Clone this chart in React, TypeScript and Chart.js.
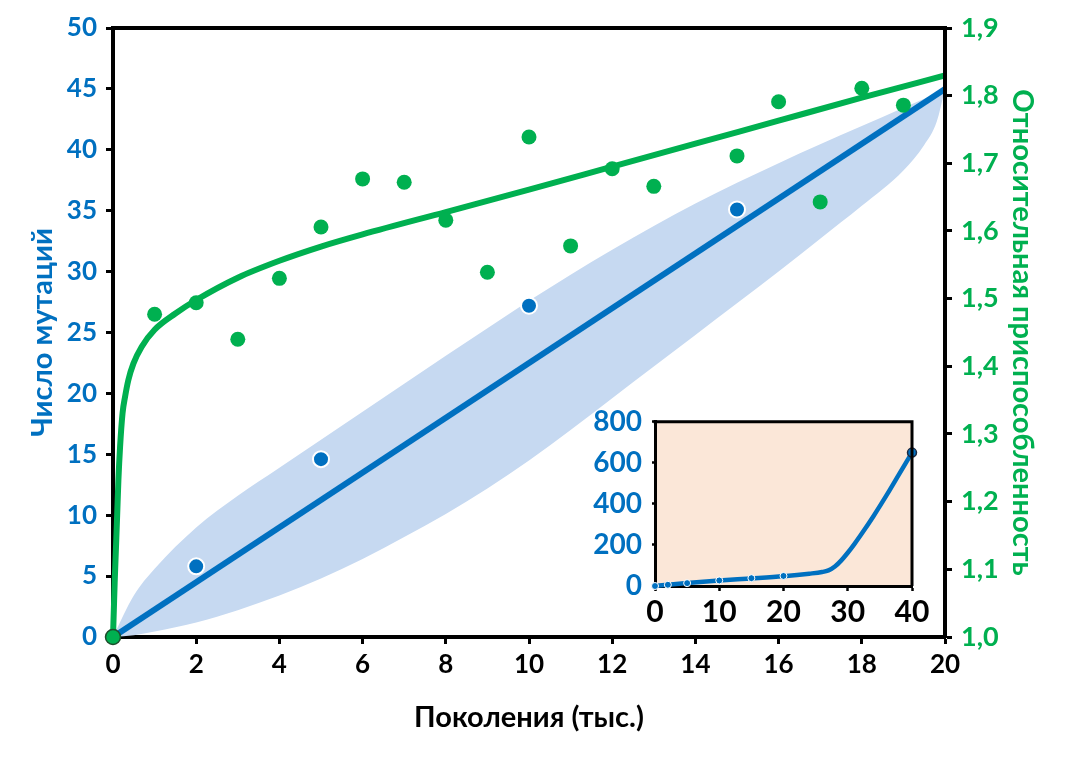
import React, { useEffect, useRef } from 'react';
import { Chart, registerables } from 'chart.js';

Chart.register(...registerables);

// fitness measurements (thousand generations -> relative fitness)
const fitnessGenerations = [0, 1, 2, 3, 4, 5, 6, 7, 8, 9, 10, 11, 12, 13, 15, 16, 17, 18, 19];
const fitnessValues = [1.0, 1.477, 1.494, 1.44, 1.53, 1.606, 1.677, 1.672, 1.616, 1.539, 1.739, 1.578, 1.692, 1.666, 1.711, 1.791, 1.643, 1.811, 1.786];

// fitted fitness curve
const fitnessCurveX = [0, 0.02, 0.04, 0.07, 0.1, 0.13, 0.17, 0.23, 0.29, 0.37, 0.49, 0.69, 1.0, 1.5, 2, 3, 4, 5, 6, 8, 10, 12, 14, 16, 18, 20];
const fitnessCurveY = [1.0, 1.04, 1.08, 1.13, 1.18, 1.232, 1.281, 1.331, 1.355, 1.38, 1.404, 1.429, 1.454, 1.478, 1.498, 1.531, 1.556, 1.577, 1.595, 1.628, 1.661, 1.695, 1.729, 1.763, 1.797, 1.83];

// mutation counts
const mutationGenerations = [0, 2, 5, 10, 15];
const mutationCounts = [0, 5.8, 14.6, 27.2, 35.1];

const trendX = [0, 20];
const trendY = [0, 45];

// confidence band around the trend
const bandX = [0, 0.5, 1, 2, 3, 4, 5, 6, 7, 8, 9, 10, 11, 12, 13, 14, 15, 16, 17, 18, 19, 19.5, 19.8, 20];
const bandUpper = [0, 3.4, 5.6, 9.0, 11.6, 13.9, 16.2, 18.5, 20.8, 23.1, 25.35, 27.6, 29.75, 31.8, 33.75, 35.6, 37.3, 38.9, 40.45, 41.95, 43.45, 44.2, 44.65, 45];
const bandLower = [0, 0.15, 0.45, 1.2, 2.2, 3.4, 4.8, 6.4, 8.2, 10.1, 12.2, 14.5, 17.0, 19.6, 22.2, 24.8, 27.4, 30.0, 32.7, 35.4, 38.3, 40.4, 42.3, 45];

// inset: mutations over 40 thousand generations
const insetCurveX = [0, 2, 5, 10, 15, 20, 24, 26, 27, 28, 29, 30, 31, 32, 34, 36, 38, 40];
const insetCurveY = [0, 6, 14.6, 27, 37, 48, 60, 68, 76, 95, 125, 162, 203, 247, 340, 440, 545, 650];
const insetMarkerX = [0, 2, 5, 10, 15, 20, 40];
const insetMarkerY = [0, 6, 14, 27, 38, 49, 650];

const BLUE = '#0070c0';
const GREEN = '#00b050';
const BAND = '#c6d9f1';
const PEACH = '#fbe7d8';
const FONT = 'Lato, "Noto Sans", sans-serif';

const font = (size: number) => ({ family: FONT, size, weight: 'bold' as const });
const pts = (xs: number[], ys: number[]) => xs.map((x, i) => ({ x, y: ys[i] }));

// closes the box: top and right edges of the plot area
const framePlugin = (width: number) => ({
  id: 'frame',
  afterDraw(chart: any) {
    const { ctx, chartArea: a } = chart;
    ctx.save();
    ctx.strokeStyle = '#000';
    ctx.lineWidth = width;
    ctx.beginPath();
    ctx.moveTo(a.left - width / 2, a.top);
    ctx.lineTo(a.right, a.top);
    ctx.lineTo(a.right, a.bottom);
    ctx.stroke();
    ctx.restore();
  },
});

const insetBackground = {
  id: 'insetBackground',
  beforeDraw(chart: any) {
    const { ctx, chartArea: a } = chart;
    ctx.save();
    ctx.fillStyle = PEACH;
    ctx.fillRect(a.left, a.top, a.right - a.left, a.bottom - a.top);
    ctx.restore();
  },
};

const App: React.FC = () => {
  const mainRef = useRef<HTMLCanvasElement>(null);
  const insetRef = useRef<HTMLCanvasElement>(null);

  useEffect(() => {
    document.body.style.margin = '0';
    if (!mainRef.current || !insetRef.current) return;

    const axisGrid = { drawOnChartArea: false, tickLength: 7, tickWidth: 3, color: '#000' };
    const axisBorder = { color: '#000', width: 4 };

    const main = new Chart(mainRef.current, {
      type: 'scatter',
      data: {
        datasets: [
          {
            // fitness points (origin point has a dark outline)
            data: pts(fitnessGenerations, fitnessValues),
            yAxisID: 'y1',
            pointRadius: 7.5,
            pointBackgroundColor: GREEN,
            pointBorderColor: fitnessGenerations.map((g) => (g === 0 ? '#1d4d2c' : GREEN)),
            pointBorderWidth: fitnessGenerations.map((g) => (g === 0 ? 1.5 : 0)),
            showLine: false,
            clip: false,
            order: 0,
          },
          {
            data: pts(mutationGenerations.slice(1), mutationCounts.slice(1)),
            yAxisID: 'y',
            pointRadius: 8,
            pointBackgroundColor: BLUE,
            pointBorderColor: '#fff',
            pointBorderWidth: 2,
            showLine: false,
            clip: false,
            order: 1,
          },
          {
            data: pts(fitnessCurveX, fitnessCurveY),
            yAxisID: 'y1',
            showLine: true,
            borderColor: GREEN,
            borderWidth: 6,
            pointRadius: 0,
            cubicInterpolationMode: 'monotone',
            clip: false,
            order: 2,
          },
          {
            data: pts(trendX, trendY),
            yAxisID: 'y',
            showLine: true,
            borderColor: BLUE,
            borderWidth: 6,
            pointRadius: 0,
            clip: false,
            order: 3,
          },
          {
            data: pts(bandX, bandUpper),
            yAxisID: 'y',
            showLine: true,
            borderWidth: 0,
            borderColor: 'rgba(0,0,0,0)',
            backgroundColor: BAND,
            pointRadius: 0,
            cubicInterpolationMode: 'monotone',
            fill: '+1',
            order: 4,
          },
          {
            data: pts(bandX, bandLower),
            yAxisID: 'y',
            showLine: true,
            borderWidth: 0,
            borderColor: 'rgba(0,0,0,0)',
            pointRadius: 0,
            cubicInterpolationMode: 'monotone',
            fill: false,
            order: 5,
          },
        ],
      },
      options: {
        animation: false,
        responsive: false,
        layout: { padding: { top: 28, right: 0, bottom: 0, left: 0 } },
        plugins: { legend: { display: false }, tooltip: { enabled: false } },
        scales: {
          x: {
            type: 'linear',
            min: 0,
            max: 20,
            ticks: { stepSize: 2, color: '#000', font: font(26), padding: 5 },
            grid: axisGrid,
            border: axisBorder,
            title: {
              display: true,
              text: 'Поколения (тыс.)',
              color: '#000',
              font: font(29),
              padding: { top: 0, bottom: 24 },
            },
            afterFit: (s: any) => { s.height = 122; },
          },
          y: {
            position: 'left',
            min: 0,
            max: 50,
            ticks: { stepSize: 5, color: BLUE, font: font(26), padding: 9 },
            grid: axisGrid,
            border: axisBorder,
            title: {
              display: true,
              text: 'Число мутаций',
              color: BLUE,
              font: font(29),
              padding: { top: 25, bottom: 0 },
            },
            afterFit: (s: any) => { s.width = 113; },
          },
          y1: {
            position: 'right',
            min: 1.0,
            max: 1.9,
            ticks: {
              stepSize: 0.1,
              color: GREEN,
              font: font(27),
              padding: 9,
              callback: (v: any) => Number(v).toFixed(1).replace('.', ','),
            },
            grid: axisGrid,
            border: axisBorder,
            title: {
              display: true,
              text: 'Относительная приспособленность',
              color: GREEN,
              font: font(29),
              padding: { top: 41, bottom: 0 },
            },
            afterFit: (s: any) => { s.width = 136; },
          },
        },
      },
      plugins: [framePlugin(4)],
    } as any);

    const inset = new Chart(insetRef.current, {
      type: 'scatter',
      data: {
        datasets: [
          {
            data: pts(insetMarkerX, insetMarkerY),
            pointRadius: insetMarkerX.map((x) => (x === 40 ? 4.5 : 3.5)),
            pointBackgroundColor: BLUE,
            pointBorderColor: insetMarkerX.map((x) => (x === 40 ? '#1b2a41' : '#fff')),
            pointBorderWidth: insetMarkerX.map((x) => (x === 40 ? 1.5 : 1)),
            showLine: false,
            clip: false,
            order: 0,
          },
          {
            data: pts(insetCurveX, insetCurveY),
            showLine: true,
            borderColor: BLUE,
            borderWidth: 4.5,
            pointRadius: 0,
            cubicInterpolationMode: 'monotone',
            clip: false,
            order: 1,
          },
        ],
      },
      options: {
        animation: false,
        responsive: false,
        layout: { padding: { top: 26, right: 38, bottom: 0, left: 0 } },
        plugins: { legend: { display: false }, tooltip: { enabled: false } },
        scales: {
          x: {
            type: 'linear',
            min: 0,
            max: 40,
            ticks: { stepSize: 10, color: '#000', font: font(30), padding: 3 },
            grid: { drawOnChartArea: false, tickLength: 5, tickWidth: 2.5, color: '#000' },
            border: { color: '#000', width: 3 },
            afterFit: (s: any) => { s.height = 54; },
          },
          y: {
            min: 0,
            max: 800,
            ticks: { stepSize: 200, color: BLUE, font: font(28), padding: 10 },
            grid: { drawOnChartArea: false, tickLength: 3, tickWidth: 2.5, color: '#000' },
            border: { color: '#000', width: 3 },
            afterFit: (s: any) => { s.width = 95; },
          },
        },
      },
      plugins: [insetBackground, framePlugin(3)],
    } as any);

    return () => {
      main.destroy();
      inset.destroy();
    };
  }, []);

  return (
    <div style={{ position: 'relative', width: 1081, height: 759, background: '#fff' }}>
      <canvas ref={mainRef} width={1081} height={759} style={{ position: 'absolute', left: 0, top: 0 }} />
      <canvas ref={insetRef} width={390} height={245} style={{ position: 'absolute', left: 560, top: 395 }} />
    </div>
  );
};

export default App;
